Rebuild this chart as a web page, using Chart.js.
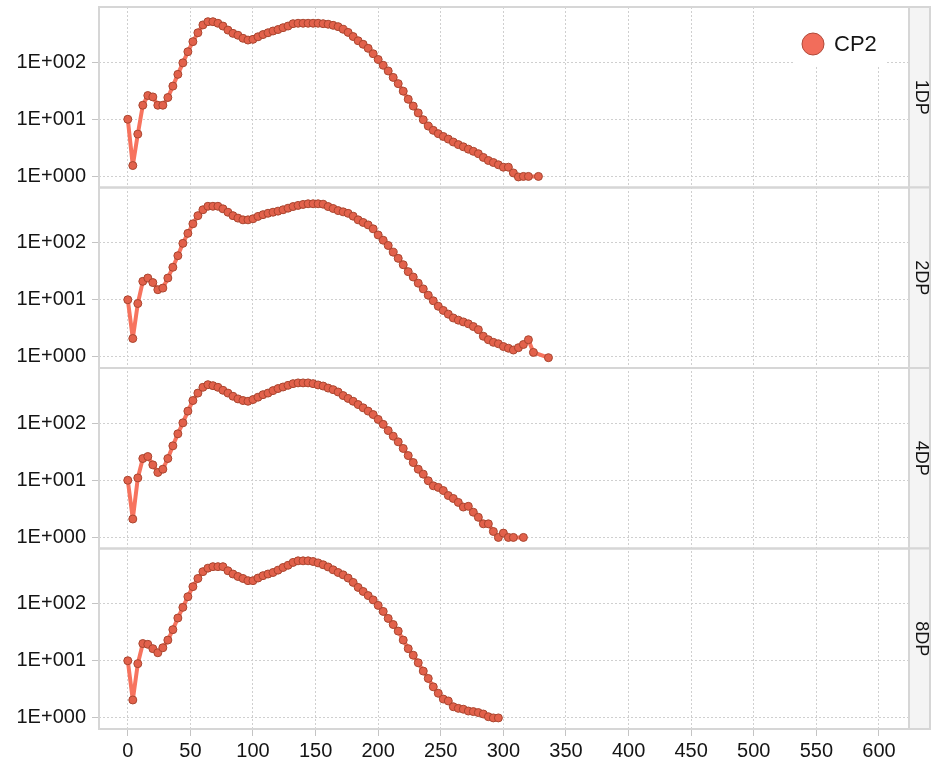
<!DOCTYPE html>
<html>
<head>
<meta charset="utf-8">
<script src="https://cdn.jsdelivr.net/npm/chart.js@4"></script>
<style>
  html, body { margin: 0; padding: 0; background: #fff; }
  #wrap { width: 941px; height: 764px; }
</style>
</head>
<body>
<div id="wrap"><canvas id="myChart" width="941" height="764"></canvas></div>
<script>
"use strict";

// x positions shared by all panels
var dist = [0, 4, 8, 12, 16, 20, 24, 28, 32, 36, 40, 44, 48, 52, 56, 60, 64, 68, 72, 76,
  80, 84, 88, 92, 96, 100, 104, 108, 112, 116, 120, 124, 128, 132, 136, 140, 144, 148, 152, 156,
  160, 164, 168, 172, 176, 180, 184, 188, 192, 196, 200, 204, 208, 212, 216, 220, 224, 228, 232, 236,
  240, 244, 248, 252, 256, 260, 264, 268, 272, 276, 280, 284, 288, 292, 296, 300, 304, 308, 312, 316,
  320, 324, 328, 332, 336, 340];

var dp1 = [10, 1.55, 5.5, 17.6, 26, 24.6, 17.6, 17.6, 24, 38, 61, 97, 152, 228, 326, 447, 509, 509, 478, 427,
  363, 318, 295, 261, 243, 250, 277, 303, 326, 350, 371, 400, 427, 470, 478, 478, 478, 478, 478, 470,
  460, 440, 417, 375, 331, 280, 236, 205, 174, 140, 111, 88, 70, 54, 42, 31, 22.4, 17, 12.9, 9.8,
  7.6, 6.4, 5.6, 5.0, 4.5, 4.0, 3.6, 3.3, 3.0, 2.75, 2.5, 2.15, 1.9, 1.75, 1.6, 1.45, 1.45, 1.15, 0.98, 1.0,
  1.0, null, 1.0, null, null, null];

var dp2 = [10, 2.1, 8.6, 21, 24, 20, 15, 16, 24, 37, 59, 97, 145, 213, 296, 375, 432, 432, 432, 390,
  340, 296, 268, 250, 250, 261, 287, 308, 326, 340, 355, 375, 400, 427, 447, 465, 478, 478, 478, 470,
  427, 395, 363, 345, 325, 290, 250, 225, 204, 174, 136, 110, 89, 68, 53, 41, 31, 25, 19.5, 15.5,
  12, 9.6, 7.7, 6.5, 5.6, 4.8, 4.4, 4.1, 3.8, 3.4, 3.0, 2.3, 2.0, 1.8, 1.7, 1.52, 1.42, 1.32, 1.45, 1.65,
  2.0, 1.2, null, null, 0.97, null];

var dp4 = [10, 2.1, 11, 24, 26, 18.6, 13.7, 15.6, 24, 40, 65, 101, 162, 248, 335, 423, 470, 452, 423, 375,
  335, 295, 265, 248, 241, 258, 284, 314, 335, 370, 402, 428, 458, 490, 505, 505, 505, 490, 465, 445,
  410, 385, 350, 303, 270, 241, 211, 185, 162, 141, 116, 95, 74, 59, 47, 36, 27, 20.4, 15.6, 12.8,
  9.8, 8.0, 7.5, 6.6, 5.4, 4.8, 4.1, 3.4, 3.5, 2.76, 2.25, 1.73, 1.73, 1.27, 1.0, 1.19, 1.0, 1.0, null, 1.0,
  null, null, null, null, null, null];

var dp8 = [10, 2.06, 8.9, 20, 19.4, 16.3, 13.8, 16.9, 23, 35, 56, 86, 132, 198, 275, 362, 417, 443, 443, 443,
  375, 329, 298, 275, 252, 252, 280, 308, 329, 350, 385, 428, 468, 525, 560, 560, 560, 545, 515, 478,
  438, 390, 350, 318, 280, 235, 192, 163, 138, 116, 93, 73, 55, 43, 33, 23, 16.3, 12.5, 9.2, 6.6,
  4.9, 3.5, 2.7, 2.14, 1.98, 1.57, 1.47, 1.42, 1.32, 1.29, 1.24, 1.17, 1.05, 1.0, 1.0, null, null, null, null, null,
  null, null, null, null, null, null];

var panels = ["1DP", "2DP", "4DP", "8DP"];
var seriesName = "CP2";
var xTicks = [0, 50, 100, 150, 200, 250, 300, 350, 400, 450, 500, 550, 600];
var yTicks = [1, 10, 100];

var tickFont = "'Liberation Sans', Arial, sans-serif";

function toPoints(vals) {
  var out = [];
  for (var i = 0; i < dist.length; i++) {
    if (vals[i] !== null && vals[i] !== undefined) out.push({ x: dist[i], y: vals[i] });
  }
  return out;
}

var allSeries = [dp1, dp2, dp4, dp8];
var datasets = allSeries.map(function (s, i) {
  return {
    label: seriesName,
    data: toPoints(s),
    yAxisID: "y" + (i + 1),
    borderColor: "#f7735e",
    borderWidth: 4,
    borderJoinStyle: "round",
    borderCapStyle: "round",
    pointRadius: 4,
    pointBackgroundColor: "#e2614b",
    pointBorderColor: "#a9452f",
    pointBorderWidth: 1,
    spanGaps: true,
    tension: 0,
  };
});

function noPad(scale) {
  scale.paddingTop = 0;
  scale.paddingBottom = 0;
}

function yAxis(i) {
  return {
    type: "logarithmic",
    position: "left",
    stack: "panels",
    stackWeight: 1,
    weight: 10 - i,
    min: 0.64,
    max: 920,
    bounds: "data",
    afterBuildTicks: function (scale) {
      scale.ticks = yTicks.map(function (v) { return { value: v }; });
    },
    afterFit: function (scale) {
      scale.width = 99;
      noPad(scale);
    },
    ticks: {
      color: "#151515",
      font: { family: tickFont, size: 20 },
      padding: 6,
      callback: function (v) {
        var e = Math.round(Math.log10(v));
        return "1E+" + String(e).padStart(3, "0");
      },
    },
    grid: { color: "#cfcfcf", lineWidth: 1, tickLength: 7, tickColor: "#c4c4c4", tickWidth: 1 },
    border: { display: false, dash: [2, 2] },
  };
}

var scales = {
  x: {
    type: "linear",
    min: -23,
    max: 624,
    afterBuildTicks: function (scale) {
      scale.ticks = xTicks.map(function (v) { return { value: v }; });
    },
    afterFit: function (scale) { scale.height = 35; },
    ticks: { color: "#151515", font: { family: tickFont, size: 20 }, padding: 3, maxRotation: 0 },
    grid: { color: "#cfcfcf", lineWidth: 1, tickLength: 7, tickColor: "#c4c4c4", tickWidth: 1 },
    border: { display: false, dash: [2, 2] },
  },
};
panels.forEach(function (p, i) { scales["y" + (i + 1)] = yAxis(i); });

// panel frames, strip labels and the legend box
var facetPlugin = {
  id: "facets",
  beforeDatasetsDraw: function (chart) {
    var ctx = chart.ctx;
    var top = chart.scales.y1.top;
    ctx.save();
    ctx.fillStyle = "#ffffff";
    ctx.fillRect(795, top, 92, 60);
    ctx.restore();
  },
  afterDraw: function (chart) {
    var ctx = chart.ctx;
    var area = chart.chartArea;
    var stripW = 21;
    ctx.save();
    panels.forEach(function (p, i) {
      var s = chart.scales["y" + (i + 1)];
      ctx.fillStyle = "#f4f4f4";
      ctx.fillRect(area.right, s.top, stripW, s.bottom - s.top);
      ctx.strokeStyle = "#d6d6d6";
      ctx.lineWidth = 2;
      ctx.strokeRect(area.left, s.top, area.right + stripW - area.left, s.bottom - s.top);
      ctx.beginPath();
      ctx.moveTo(area.right, s.top);
      ctx.lineTo(area.right, s.bottom);
      ctx.stroke();
      ctx.save();
      ctx.translate(area.right + stripW / 2 + 1, (s.top + s.bottom) / 2);
      ctx.rotate(Math.PI / 2);
      ctx.fillStyle = "#151515";
      ctx.font = "18px " + tickFont;
      ctx.textAlign = "center";
      ctx.textBaseline = "middle";
      ctx.fillText(p, 0, 0);
      ctx.restore();
    });
    // legend
    var ly = chart.scales.y1.top + 37;
    ctx.beginPath();
    ctx.arc(813, ly, 11, 0, Math.PI * 2);
    ctx.fillStyle = "#f26d5b";
    ctx.fill();
    ctx.lineWidth = 1;
    ctx.strokeStyle = "#b04a3a";
    ctx.stroke();
    ctx.fillStyle = "#151515";
    ctx.font = "22px " + tickFont;
    ctx.textAlign = "left";
    ctx.textBaseline = "middle";
    ctx.fillText(seriesName, 834, ly + 1);
    ctx.restore();
  },
};

var ctx = document.getElementById("myChart");
var myChart = new Chart(ctx, {
  type: "line",
  data: { datasets: datasets },
  options: {
    responsive: false,
    animation: false,
    devicePixelRatio: 1,
    layout: { padding: { top: 7, right: 32, bottom: 0, left: 0 } },
    plugins: { legend: { display: false }, tooltip: { enabled: false } },
    scales: scales,
  },
  plugins: [facetPlugin],
});
</script>
</body>
</html>
